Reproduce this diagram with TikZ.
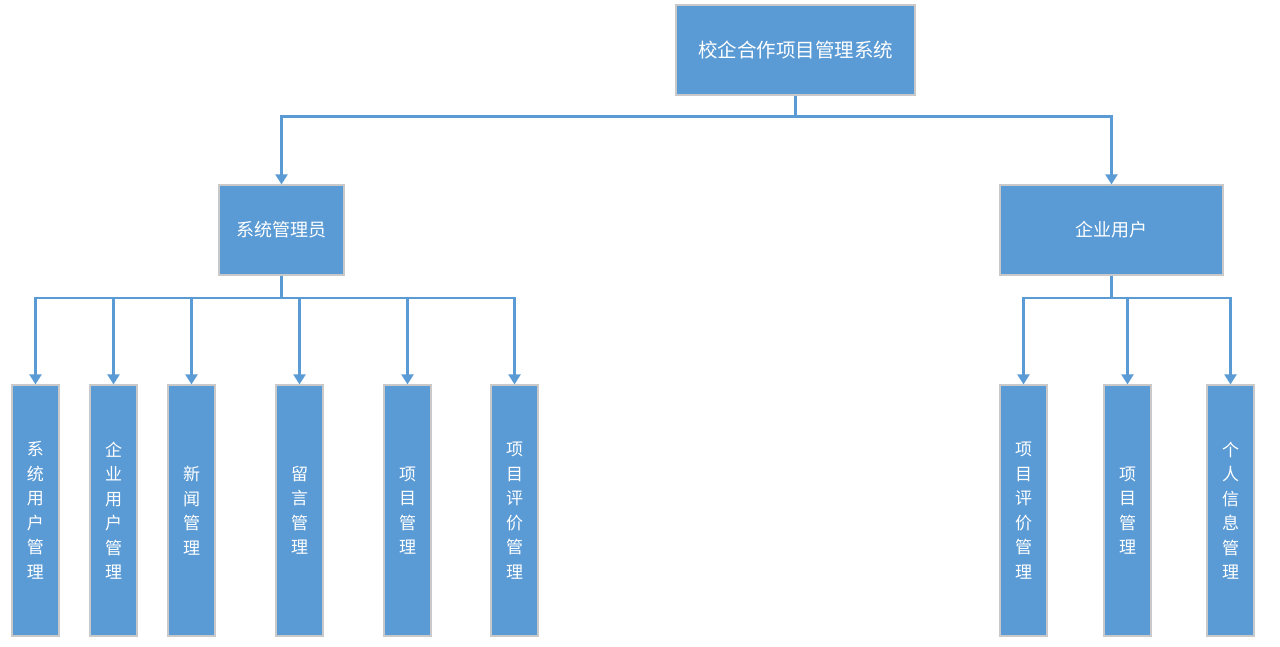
\documentclass[tikz,border=0pt]{standalone}
\usepackage{fontspec}
\newfontfamily\cjk{Noto Sans CJK SC}
\usetikzlibrary{arrows.meta}
\definecolor{boxblue}{HTML}{5B9BD5}
\definecolor{boxedge}{HTML}{C9C9C9}
\begin{document}
\begin{tikzpicture}[x=1pt,y=-1pt,
  box/.style={draw=boxedge,line width=1.2pt,fill=boxblue,text=white,inner sep=0pt,align=center},
  bigbox/.style={box,font=\cjk\fontsize{18}{22}\selectfont},
  topbox/.style={box,font=\cjk\fontsize{19.5}{24}\selectfont},
  tallbox/.style={box,minimum width=47pt,minimum height=251pt,font=\cjk\fontsize{17}{24.5}\selectfont},
  conn/.style={draw=boxblue,line width=2.2pt,-{Triangle[width=12pt,length=10pt]}}]
\useasboundingbox (0,0) rectangle (1280,647);
\node[topbox,minimum width=239pt,minimum height=90pt] (top) at (795.5,50) {校企合作项目管理系统};
\node[bigbox,minimum width=125pt,minimum height=90pt] (adm) at (281.5,230) {系统管理员};
\node[bigbox,minimum width=223pt,minimum height=90pt] (ent) at (1111.5,230) {企业用户};
\node[tallbox] (a1) at (35.5,510.5) {系\\统\\用\\户\\管\\理};
\node[tallbox] (a2) at (113.5,510.5) {企\\业\\用\\户\\管\\理};
\node[tallbox] (a3) at (191.5,510.5) {新\\闻\\管\\理};
\node[tallbox] (a4) at (299.5,510.5) {留\\言\\管\\理};
\node[tallbox] (a5) at (407.5,510.5) {项\\目\\管\\理};
\node[tallbox] (a6) at (514.5,510.5) {项\\目\\评\\价\\管\\理};
\node[tallbox] (e1) at (1023.5,510.5) {项\\目\\评\\价\\管\\理};
\node[tallbox] (e2) at (1127.5,510.5) {项\\目\\管\\理};
\node[tallbox] (e3) at (1230.5,510.5) {个\\人\\信\\息\\管\\理};
\foreach \c in {adm,ent}
  \draw[conn] (top.south) -- ++(0,21) -| (\c.north);
\foreach \c in {a1,a2,a3,a4,a5,a6}
  \draw[conn] (adm.south) -- ++(0,22) -| (\c.north);
\foreach \c in {e1,e2,e3}
  \draw[conn] (ent.south) -- ++(0,22) -| (\c.north);
\end{tikzpicture}
\end{document}
